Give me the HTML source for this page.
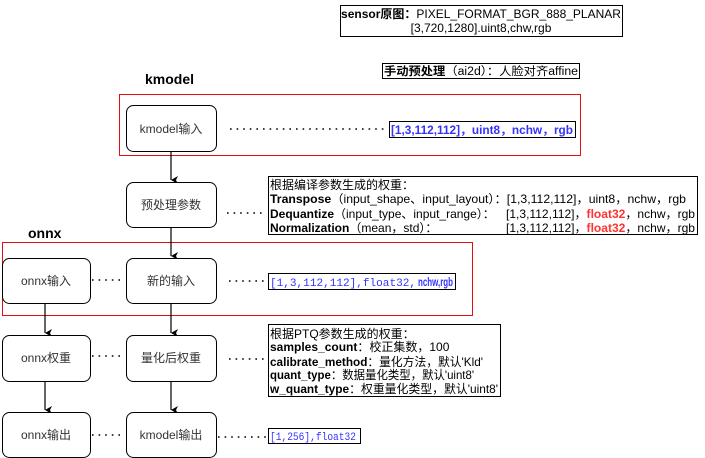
<!DOCTYPE html>
<html><head><meta charset="utf-8"><style>
body{margin:0;background:#fff;width:705px;height:458px;overflow:hidden}
svg{display:block}
text{font-family:"Liberation Sans","Noto Sans CJK SC",sans-serif;font-size:12px;fill:#000}
.m{font-family:"Liberation Mono","Noto Sans CJK SC",monospace;font-size:11px;fill:#3333ff}
.b{font-weight:bold}
.bl{fill:#3333ff}
.r{fill:#ff3333;font-weight:bold}
.n{fill:#333;font-size:12px}
</style></head><body>
<svg width="705" height="458" viewBox="0 0 705 458">
<defs><marker id="a" markerWidth="8" markerHeight="8" refX="4" refY="7" orient="auto" markerUnits="userSpaceOnUse"><path d="M0,0 L4,7 L8,0 L4,2 Z" fill="#000"/></marker></defs>
<rect x="119.5" y="94.5" width="461" height="61" fill="none" stroke="#e01010"/>
<rect x="2.5" y="242.5" width="470" height="73" fill="none" stroke="#e01010"/>
<text x="145" y="84" class="b" style="font-size:14px">kmodel</text>
<text x="28" y="238" class="b" style="font-size:14px">onnx</text>
<rect x="340.5" y="5.5" width="282" height="31" fill="none" stroke="#000"/>
<text x="481" y="18" text-anchor="middle"><tspan class="b">sensor原图：</tspan>PIXEL_FORMAT_BGR_888_PLANAR</text>
<text x="481" y="32" text-anchor="middle">[3,720,1280].uint8,chw,rgb</text>
<rect x="382.5" y="63.5" width="197" height="15" fill="none" stroke="#000"/>
<text x="384" y="75" style="font-size:11.5px" textLength="194" lengthAdjust="spacingAndGlyphs"><tspan class="b">手动预处理</tspan>（ai2d）：人脸对齐affine</text>
<g stroke="#000" stroke-width="1.2" fill="none">
<line x1="171" y1="151" x2="171" y2="180" marker-end="url(#a)"/>
<line x1="171" y1="227" x2="171" y2="256" marker-end="url(#a)"/>
<line x1="171" y1="303" x2="171" y2="333" marker-end="url(#a)"/>
<line x1="171" y1="381" x2="171" y2="410" marker-end="url(#a)"/>
<line x1="45" y1="303" x2="45" y2="333" marker-end="url(#a)"/>
<line x1="45" y1="381" x2="45" y2="410" marker-end="url(#a)"/>
</g>
<g stroke="#000" stroke-width="1.6" stroke-dasharray="1.6,5" fill="none">
<line x1="230" y1="129" x2="387" y2="129"/>
<line x1="227" y1="213" x2="265" y2="213"/>
<line x1="229" y1="281" x2="266" y2="281"/>
<line x1="92" y1="280" x2="125" y2="280"/>
<line x1="92" y1="356" x2="125" y2="356"/>
<line x1="229" y1="359" x2="266" y2="359"/>
<line x1="92" y1="435" x2="125" y2="435"/>
<line x1="218" y1="437" x2="266" y2="437"/>
</g>
<g fill="#fff" stroke="#000" stroke-width="1">
<rect x="126.5" y="105.5" width="90" height="46" rx="7"/>
<rect x="126.5" y="182.5" width="90" height="45" rx="7"/>
<rect x="126.5" y="258.5" width="90" height="45" rx="7"/>
<rect x="2.5" y="258.5" width="88" height="45" rx="7"/>
<rect x="126.5" y="335.5" width="90" height="46" rx="7"/>
<rect x="2.5" y="335.5" width="88" height="46" rx="7"/>
<rect x="126.5" y="412.5" width="90" height="45" rx="7"/>
<rect x="2.5" y="412.5" width="88" height="45" rx="7"/>
</g>
<g class="n" text-anchor="middle">
<text x="171" y="133" class="n">kmodel输入</text>
<text x="171" y="209" class="n">预处理参数</text>
<text x="171" y="285" class="n">新的输入</text>
<text x="46" y="285" class="n">onnx输入</text>
<text x="171" y="362" class="n">量化后权重</text>
<text x="46" y="362" class="n">onnx权重</text>
<text x="171" y="439" class="n">kmodel输出</text>
<text x="46" y="439" class="n">onnx输出</text>
</g>
<rect x="389.5" y="121.5" width="186" height="16" fill="#fff" stroke="#000"/>
<text x="391" y="134" class="bl b" style="font-size:11.5px" textLength="182" lengthAdjust="spacingAndGlyphs">[1,3,112,112]，uint8，nchw，rgb</text>
<rect x="268.5" y="273.5" width="187" height="16" fill="#fff" stroke="#000"/>
<text x="270" y="286" class="m" textLength="146" lengthAdjust="spacingAndGlyphs">[1,3,112,112],float32,</text>
<text x="418" y="286" class="bl b" textLength="35" lengthAdjust="spacingAndGlyphs">nchw,rgb</text>
<rect x="268.5" y="428.5" width="92" height="15" fill="#fff" stroke="#000"/>
<text x="270" y="440" class="m" textLength="86" lengthAdjust="spacingAndGlyphs">[1,256],float32</text>
<rect x="268.5" y="176.5" width="429" height="58" fill="#fff" stroke="#000"/>
<text x="270" y="189">根据编译参数生成的权重：</text>
<text x="270" y="203" textLength="416" lengthAdjust="spacingAndGlyphs"><tspan class="b">Transpose</tspan>（input_shape、input_layout）：[1,3,112,112]，uint8，nchw，rgb</text>
<text x="270" y="218"><tspan class="b">Dequantize</tspan>（input_type、input_range）：</text>
<text x="506" y="218" textLength="189" lengthAdjust="spacingAndGlyphs">[1,3,112,112]，<tspan class="r">float32</tspan>，nchw，rgb</text>
<text x="270" y="232"><tspan class="b">Normalization</tspan>（mean，std）：</text>
<text x="506" y="232" textLength="189" lengthAdjust="spacingAndGlyphs">[1,3,112,112]，<tspan class="r">float32</tspan>，nchw，rgb</text>
<rect x="268.5" y="324.5" width="232" height="72" fill="#fff" stroke="#000"/>
<text x="270" y="338">根据PTQ参数生成的权重：</text>
<text x="270" y="351"><tspan class="b">samples_count</tspan>：校正集数，100</text>
<text x="270" y="366" textLength="213" lengthAdjust="spacingAndGlyphs"><tspan class="b">calibrate_method</tspan>：量化方法，默认'Kld'</text>
<text x="270" y="379" textLength="204" lengthAdjust="spacingAndGlyphs"><tspan class="b">quant_type</tspan>：数据量化类型，默认'uint8'</text>
<text x="270" y="393" textLength="228" lengthAdjust="spacingAndGlyphs"><tspan class="b">w_quant_type</tspan>：权重量化类型，默认'uint8'</text>
</svg>
</body></html>
